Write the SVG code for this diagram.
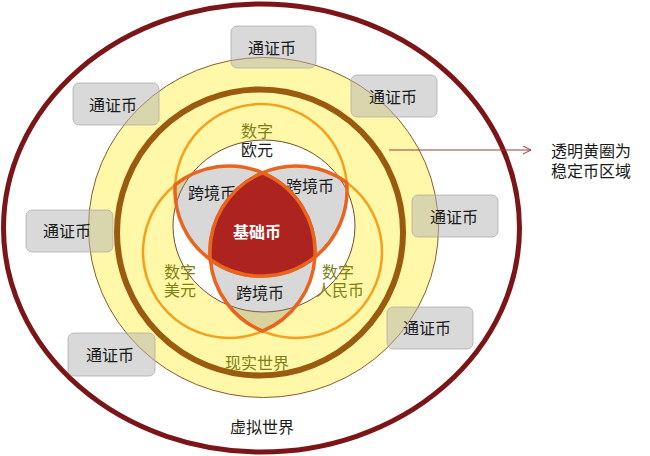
<svg xmlns="http://www.w3.org/2000/svg" width="650" height="456" viewBox="0 0 650 456">
<defs>
<style>
.t{font-family:"Liberation Sans","Noto Sans CJK SC",sans-serif;font-size:16px;text-anchor:middle;fill:#1a1a1a}
.ol{fill:#7f7f14}
.big{fill:none;stroke:#f5a01c;stroke-width:2.5}
.piece{fill:#7f7f7f;fill-opacity:.3;stroke:#e9641e;stroke-width:3.5;stroke-linejoin:round}
.box{fill:#b3b3b3;fill-opacity:.5;stroke:#a6a6a6;stroke-opacity:.7;stroke-width:1}
</style>
<marker id="ah" markerWidth="10" markerHeight="10" refX="8" refY="4" orient="auto" markerUnits="userSpaceOnUse">
<path d="M0,0 L8,4 L0,8" fill="none" stroke="#9a3a3a" stroke-width="1"/>
</marker>
</defs>
<rect width="650" height="456" fill="#ffffff"/>
<g id="virtual-world">
<ellipse cx="261.5" cy="228" rx="258" ry="224" fill="#ffffff" stroke="#7b1518" stroke-width="5"/>
<text class="t" x="262" y="433">虚拟世界</text>
</g>
<g id="stable-zone">
<ellipse cx="263.5" cy="227.5" rx="175" ry="170" fill="#fff8a8" stroke="#8b5a2b" stroke-width="1"/>
</g>
<g id="real-world">
<ellipse cx="260" cy="232.5" rx="143" ry="143" fill="none" stroke="#9a5b10" stroke-width="6"/>
<text class="t ol" x="257" y="369">现实世界</text>
</g>
<g id="digital-circles">
<circle class="big" cx="261" cy="190" r="86"/>
<circle class="big" cx="229" cy="252" r="86"/>
<circle class="big" cx="296" cy="252" r="86"/>
</g>
<g id="inner-circle">
<ellipse cx="264" cy="226" rx="91" ry="86" fill="#ffffff" stroke="#7a4a2a" stroke-width="1"/>
</g>
<g id="cross-border-left">
<path class="piece" d="M262.5,172.8 A86,86 0 0,0 175.1,184.9 A86,86 0 0,0 210.3,259.5 A86,86 0 0,1 262.5,172.8 Z"/>
<text class="t" x="212" y="199">跨境币</text>
</g>
<g id="cross-border-right">
<path class="piece" d="M262.5,172.8 A86,86 0 0,1 346.7,182.5 A86,86 0 0,1 314.9,257.1 A86,86 0 0,0 262.5,172.8 Z"/>
<text class="t" x="310" y="192">跨境币</text>
</g>
<g id="cross-border-bottom">
<path class="piece" d="M210.3,259.5 A86,86 0 0,0 262.5,331.2 A86,86 0 0,0 314.9,257.1 A86,86 0 0,1 210.3,259.5 Z"/>
<text class="t" x="260" y="299">跨境币</text>
</g>
<g id="base-coin">
<path d="M262.5,172.8 A86,86 0 0,0 210.3,259.5 A86,86 0 0,0 314.9,257.1 A86,86 0 0,0 262.5,172.8 Z" fill="#ad2320" stroke="#e9641e" stroke-width="3.5" stroke-linejoin="round"/>
<text class="t" x="257" y="238" style="fill:#ffffff;font-weight:bold">基础币</text>
</g>
<g id="digital-euro">
<text class="t ol" x="257" y="137">数字</text>
<text class="t" x="257" y="156">欧元</text>
</g>
<g id="digital-dollar">
<text class="t ol" x="180" y="278">数字</text>
<text class="t ol" x="180" y="296">美元</text>
</g>
<g id="digital-rmb">
<text class="t ol" x="338" y="278">数字</text>
<text class="t ol" x="340" y="296">人民币</text>
</g>
<g id="token-top">
<rect class="box" x="231" y="26" width="85" height="42" rx="6"/>
<text class="t" x="272" y="54">通证币</text>
</g>
<g id="token-upper-left">
<rect class="box" x="73" y="83" width="86" height="42" rx="6"/>
<text class="t" x="113" y="111">通证币</text>
</g>
<g id="token-upper-right">
<rect class="box" x="351" y="75" width="86" height="42" rx="6"/>
<text class="t" x="393" y="103">通证币</text>
</g>
<g id="token-left">
<rect class="box" x="26" y="210" width="87" height="42" rx="6"/>
<text class="t" x="67" y="237">通证币</text>
</g>
<g id="token-right">
<rect class="box" x="412" y="195" width="86" height="42" rx="6"/>
<text class="t" x="454" y="223">通证币</text>
</g>
<g id="token-lower-right">
<rect class="box" x="387" y="307" width="86" height="42" rx="6"/>
<text class="t" x="427" y="334">通证币</text>
</g>
<g id="token-lower-left">
<rect class="box" x="68" y="333" width="87" height="43" rx="6"/>
<text class="t" x="110" y="361">通证币</text>
</g>
<g id="note">
<text class="t" x="591" y="157">透明黄圈为</text>
<text class="t" x="591" y="177">稳定币区域</text>
</g>
<g id="connectors">
<line x1="389" y1="150" x2="531" y2="150" stroke="#9a3a3a" stroke-width="1" marker-end="url(#ah)"/>
</g>
</svg>
